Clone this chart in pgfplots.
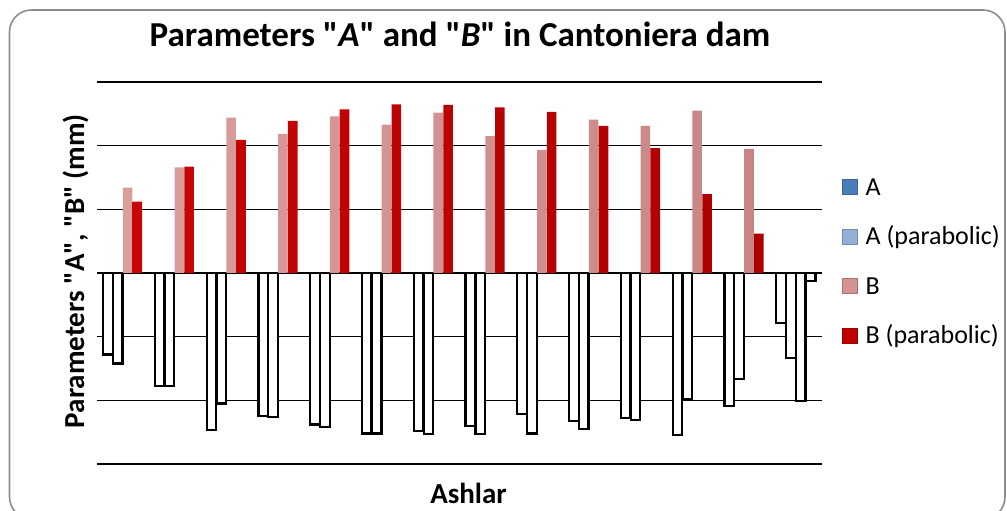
\documentclass[border=0pt]{standalone}
\usepackage{pgfplots}
\pgfplotsset{compat=1.18}
\usepackage{fontspec}
\setmainfont{Carlito}[Ligatures=TeXOff]
\definecolor{frameGray}{HTML}{8C8C8C}
\definecolor{Bpink}{HTML}{D39392}
\definecolor{BpinkL}{HTML}{DA9E9D}
\definecolor{BpinkD}{HTML}{C98585}
\definecolor{Bred}{HTML}{C00000}
\definecolor{BredL}{HTML}{C80505}
\definecolor{BredD}{HTML}{AE0000}
\definecolor{Ablue}{HTML}{4A7EBB}
\definecolor{Aplight}{HTML}{93AFD6}
\pgfplotstableread{
x A Ap
1 -1.28 -1.42
2 -1.77 -1.77
3 -2.47 -2.05
4 -2.24 -2.26
5 -2.38 -2.42
6 -2.52 -2.52
7 -2.48 -2.53
8 -2.40 -2.53
9 -2.21 -2.52
10 -2.32 -2.45
11 -2.28 -2.31
12 -2.54 -1.98
13 -2.09 -1.67
14 -0.78 -1.33
}\tableA
\pgfplotstableread{
x B Bp
1 1.34 1.12
2 1.66 1.67
3 2.44 2.09
4 2.18 2.39
5 2.46 2.57
6 2.33 2.65
7 2.52 2.64
8 2.15 2.60
9 1.93 2.53
10 2.41 2.31
11 2.31 1.96
12 2.55 1.24
13 1.95 0.62
}\tableB
\pgfplotstableread{
x B Bp
14 -2.01 -0.12
}\tableBneg
\begin{document}
\begin{tikzpicture}[x=1pt,y=1pt]
\useasboundingbox (0,0) rectangle (1007,511);
\clip (0,0) rectangle (1007,511);
\draw[frameGray, line width=1.6pt, rounded corners=22pt] (9.5,-8) rectangle (1005,501);
\begin{axis}[
  at={(97pt,47pt)}, anchor=south west,
  scale only axis, width=725pt, height=382pt,
  xmin=0.5, xmax=14.5, ymin=-3, ymax=3,
  ytick={-3,-2,...,3}, yticklabels={}, xtick=\empty,
  ymajorgrids, grid style={black, line width=1.3pt},
  axis line style={draw=none}, tick style={draw=none},
  ybar, bar width=0.185,
  title={\fontsize{35}{40}\selectfont\bfseries Parameters "\textit{A}" and "\textit{B}" in Cantoniera dam},
  title style={at={(axis description cs:0.5007,1.0785)}, anchor=base, inner sep=0pt},
  ylabel={\fontsize{29}{34}\selectfont\bfseries Parameters "A", "B" (mm)},
  ylabel style={at={(axis description cs:-0.0179,0.505)}, anchor=base, inner sep=0pt},
  xlabel={\fontsize{29}{34}\selectfont\bfseries Ashlar},
  xlabel style={at={(axis description cs:0.5124,-0.1029)}, anchor=base, inner sep=0pt},
  legend image code/.code={\draw[#1] (0pt,1pt) rectangle (15pt,16pt);},
  legend style={at={(axis description cs:1.0276,0.525)}, anchor=west, draw=none, fill=none,
    inner sep=0pt, font=\fontsize{26}{30}\selectfont, row sep=25.5pt,
    nodes={inner sep=0pt, anchor=base west, text height=18pt, text depth=6pt}},
  legend cell align=left,
  /tikz/every odd column/.append style={column sep=8pt},
]
\addlegendimage{draw=Ablue!80!black, fill=Ablue, line width=0.4pt}
\addlegendentry{A}
\addlegendimage{draw=Aplight!80!black, fill=Aplight, line width=0.4pt}
\addlegendentry{A (parabolic)}
\addlegendimage{draw=BpinkD!85!black, fill=Bpink, line width=0.4pt}
\addlegendentry{B}
\addlegendimage{draw=Bred!80!black, fill=Bred, line width=0.4pt}
\addlegendentry{B (parabolic)}
\addplot[forget plot, bar shift=-0.29, draw=black, fill=white, line width=2.2pt] table[x=x, y=A] {\tableA};
\addplot[forget plot, bar shift=-0.10, draw=black, fill=white, line width=2.2pt] table[x=x, y=Ap] {\tableA};
\addplot[forget plot, bar shift=0.09, draw=none, left color=BpinkL, right color=BpinkD] table[x=x, y=B] {\tableB};
\addplot[forget plot, bar shift=0.28, draw=none, left color=BredL, right color=BredD] table[x=x, y=Bp] {\tableB};
\addplot[forget plot, bar shift=0.09, draw=black, fill=white, line width=2.2pt] table[x=x, y=B] {\tableBneg};
\addplot[forget plot, bar shift=0.28, draw=black, fill=white, line width=2.2pt] table[x=x, y=Bp] {\tableBneg};
\end{axis}
\end{tikzpicture}
\end{document}
